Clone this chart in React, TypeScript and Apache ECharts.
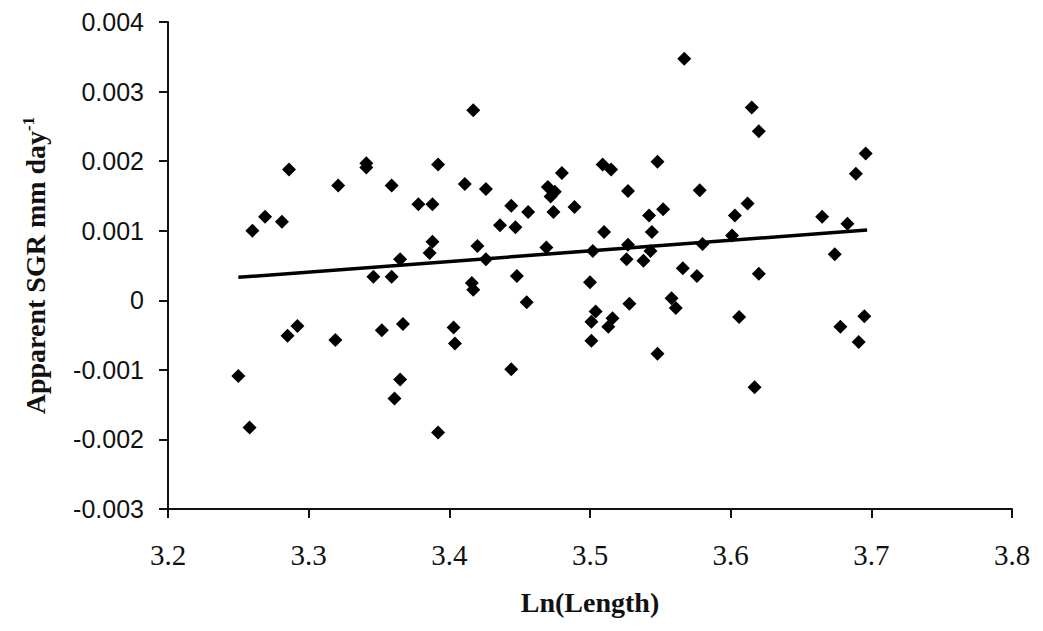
import React, { useEffect, useRef } from "react";
import * as echarts from "echarts";

const lnLength: number[] = [
  3.250, 3.258, 3.260, 3.269, 3.281, 3.286, 3.285, 3.292, 3.321, 3.319,
  3.341, 3.341, 3.346, 3.359, 3.359, 3.352, 3.365, 3.367, 3.365, 3.361,
  3.378, 3.388, 3.388, 3.386, 3.392, 3.392, 3.403, 3.404,
  3.411, 3.417, 3.426, 3.420, 3.426, 3.416, 3.417, 3.444, 3.436, 3.447,
  3.456, 3.448, 3.455, 3.444, 3.470, 3.475, 3.472, 3.480, 3.474, 3.489,
  3.469, 3.509, 3.515, 3.510, 3.502, 3.500, 3.504, 3.501, 3.501, 3.516,
  3.513, 3.527, 3.527, 3.526, 3.528, 3.548, 3.542, 3.552, 3.544, 3.543,
  3.538, 3.548, 3.567, 3.578, 3.580, 3.566, 3.576, 3.558, 3.561, 3.601,
  3.603, 3.606,
  3.615, 3.620, 3.612, 3.620, 3.617, 3.665, 3.683, 3.674, 3.696, 3.689,
  3.678, 3.695, 3.691,
];

const sgr: number[] = [
  -0.00109, -0.00183, 0.00100, 0.00120, 0.00113, 0.00188, -0.00051, -0.00037, 0.00165, -0.00057,
  0.00197, 0.00191, 0.00034, 0.00165, 0.00034, -0.00043, 0.00059, -0.00034, -0.00114, -0.00141,
  0.00138, 0.00138, 0.00084, 0.00068, 0.00195, -0.00190, -0.00039, -0.00062,
  0.00167, 0.00273, 0.00160, 0.00078, 0.00059, 0.00025, 0.00015, 0.00136, 0.00108, 0.00105,
  0.00127, 0.00035, -0.00003, -0.00099, 0.00163, 0.00156, 0.00149, 0.00183, 0.00127, 0.00134,
  0.00076, 0.00195, 0.00188, 0.00098, 0.00071, 0.00026, -0.00016, -0.00031, -0.00058, -0.00026,
  -0.00038, 0.00157, 0.00080, 0.00059, -0.00005, 0.00199, 0.00122, 0.00131, 0.00098, 0.00071,
  0.00057, -0.00077, 0.00347, 0.00158, 0.00081, 0.00046, 0.00035, 0.00003, -0.00011, 0.00093,
  0.00122, -0.00024,
  0.00277, 0.00243, 0.00139, 0.00038, -0.00125, 0.00120, 0.00110, 0.00066, 0.00211, 0.00182,
  -0.00038, -0.00023, -0.00060,
];

const trendX: number[] = [3.25, 3.697];
const trendY: number[] = [0.00033, 0.00101];

const xTicks = { min: 3.2, max: 3.8, interval: 0.1 };
const yTicks = { min: -0.003, max: 0.004, interval: 0.001 };

export default function App() {
  const ref = useRef<HTMLDivElement>(null);
  useEffect(() => {
    if (!ref.current) return;
    const chart = echarts.init(ref.current, undefined, { renderer: "svg" });
    const ink = "#111";
    chart.setOption({
      animation: false,
      backgroundColor: "#fff",
      grid: { left: 168, top: 22, right: 31, bottom: 122, containLabel: false },
      xAxis: {
        type: "value",
        min: xTicks.min,
        max: xTicks.max,
        interval: xTicks.interval,
        splitLine: { show: false },
        axisLine: { onZero: false, lineStyle: { color: ink, width: 2 } },
        axisTick: { show: true, length: 9, lineStyle: { color: ink, width: 2 } },
        axisLabel: {
          color: ink,
          fontFamily: "Liberation Serif",
          fontSize: 29,
          margin: 31,
          formatter: (v: number) => v.toFixed(1),
        },
        name: "Ln(Length)",
        nameLocation: "middle",
        nameGap: 79,
        nameTextStyle: {
          color: ink,
          fontFamily: "Liberation Serif",
          fontWeight: "bold",
          fontSize: 28,
        },
      },
      yAxis: {
        type: "value",
        min: yTicks.min,
        max: yTicks.max,
        interval: yTicks.interval,
        splitLine: { show: false },
        axisLine: { onZero: false, lineStyle: { color: ink, width: 2 } },
        axisTick: { show: true, length: 9, lineStyle: { color: ink, width: 2 } },
        axisLabel: {
          color: ink,
          fontFamily: "Liberation Sans",
          fontSize: 25,
          margin: 24,
          formatter: (v: number) => (Math.abs(v) < 1e-9 ? "0" : v.toFixed(3)),
        },
        name: "Apparent SGR mm day{sup|-1}",
        nameLocation: "middle",
        nameRotate: 90,
        nameGap: 117,
        nameTextStyle: {
          color: ink,
          fontFamily: "Liberation Serif",
          fontWeight: "bold",
          fontSize: 28,
          rich: {
            sup: {
              fontFamily: "Liberation Serif",
              fontWeight: "bold",
              fontSize: 17,
              color: ink,
              verticalAlign: "top",
              padding: [0, 0, 14, 0],
            },
          },
        },
      },
      series: [
        {
          type: "scatter",
          data: lnLength.map((x, i) => [x, sgr[i]]),
          symbol: "diamond",
          symbolSize: 14,
          itemStyle: { color: "#000", opacity: 1 },
          z: 3,
        },
        {
          type: "line",
          data: trendX.map((x, i) => [x, trendY[i]]),
          showSymbol: false,
          symbol: "none",
          lineStyle: { color: "#000", width: 3.5 },
          z: 2,
        },
      ],
    });
    return () => chart.dispose();
  }, []);
  return (
    <div
      ref={ref}
      style={{ position: "fixed", left: 0, top: 0, width: 1043, height: 631, background: "#fff" }}
    />
  );
}
